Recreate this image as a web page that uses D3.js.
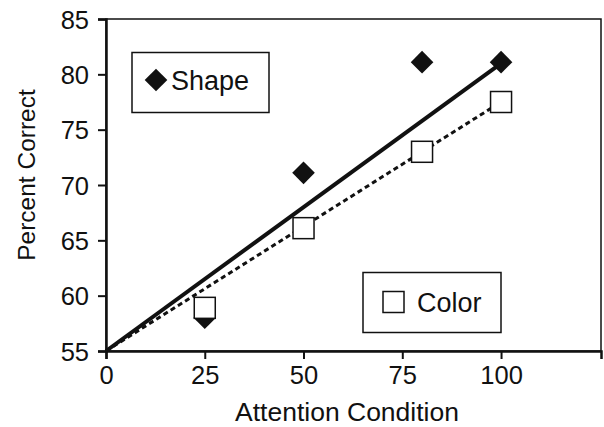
<!DOCTYPE html>
<html>
<head>
<meta charset="utf-8">
<script src="https://cdn.jsdelivr.net/npm/d3@7"></script>
<style>
  body { margin: 0; background: #fff; }
  svg { display: block; font-family: "Liberation Sans", Arial, sans-serif; }
</style>
</head>
<body>
<script>
const width = 604;
const height = 427;

// attention condition (x) and percent correct (y)
const shapeX = [25, 50, 80, 100];
const shapeY = [58, 71.1, 81.1, 81.1];
const colorX = [25, 50, 80, 100];
const colorY = [58.9, 66.1, 73, 77.5];
// fitted lines, [x, y] end points
const shapeFit = [[0, 55], [100, 81]];
const colorFit = [[0, 55], [100, 77.5]];
const xTicks = [0, 25, 50, 75, 100];
const yTicks = [55, 60, 65, 70, 75, 80, 85];

const margin = {top: 19, right: 3, bottom: 76, left: 106};

const x = d3.scaleLinear()
    .domain([0, 125.3])
    .range([margin.left, width - margin.right]);
const y = d3.scaleLinear()
    .domain([55, 85])
    .range([height - margin.bottom, margin.top]);

const svg = d3.select("body").append("svg")
    .attr("width", width)
    .attr("height", height);

// frame
svg.append("rect")
    .attr("x", x(0)).attr("y", y(85))
    .attr("width", x(125.3) - x(0)).attr("height", y(55) - y(85))
    .attr("fill", "none")
    .attr("stroke", "#111")
    .attr("stroke-width", 1.5);

const xAxis = svg.append("g")
    .attr("transform", `translate(0,${y(55)})`)
    .call(d3.axisBottom(x).tickValues(xTicks).tickSize(8).tickPadding(7));
const yAxis = svg.append("g")
    .attr("transform", `translate(${x(0)},0)`)
    .call(d3.axisLeft(y).tickValues(yTicks).tickSize(8).tickPadding(9));

[xAxis, yAxis].forEach(g => {
  g.select(".domain").attr("stroke", "#111").attr("stroke-width", 2.5);
  g.selectAll(".tick line").attr("stroke", "#111").attr("stroke-width", 2);
  g.selectAll(".tick text")
      .attr("font-family", "'Liberation Sans', Arial, sans-serif")
      .attr("font-size", 25.5)
      .attr("fill", "#111");
});
yAxis.selectAll(".tick text").attr("dy", "0.36em");

// axis titles
svg.append("text")
    .attr("x", 347).attr("y", 421)
    .attr("text-anchor", "middle")
    .attr("font-size", 26.5)
    .attr("fill", "#111")
    .text("Attention Condition");
svg.append("text")
    .attr("transform", "translate(35,175) rotate(-90)")
    .attr("text-anchor", "middle")
    .attr("font-size", 24.5)
    .attr("fill", "#111")
    .text("Percent Correct");

const line = d3.line().x(d => x(d[0])).y(d => y(d[1]));

svg.append("path")
    .attr("d", line(colorFit))
    .attr("fill", "none")
    .attr("stroke", "#111")
    .attr("stroke-width", 3)
    .attr("stroke-dasharray", "5,3.5");
svg.append("path")
    .attr("d", line(shapeFit))
    .attr("fill", "none")
    .attr("stroke", "#111")
    .attr("stroke-width", 4);

const diamond = d3.symbol().type(d3.symbolSquare).size(16 * 16);

svg.append("g")
  .selectAll("path")
  .data(shapeX.map((d, i) => [d, shapeY[i]]))
  .join("path")
    .attr("transform", d => `translate(${x(d[0])},${y(d[1])}) rotate(45)`)
    .attr("d", diamond)
    .attr("fill", "#111");

svg.append("g")
  .selectAll("rect")
  .data(colorX.map((d, i) => [d, colorY[i]]))
  .join("rect")
    .attr("x", d => x(d[0]) - 10.5)
    .attr("y", d => y(d[1]) - 10.5)
    .attr("width", 21).attr("height", 21)
    .attr("fill", "#fff")
    .attr("stroke", "#111")
    .attr("stroke-width", 1.5);

// legends
const legShape = svg.append("g");
legShape.append("rect")
    .attr("x", 132).attr("y", 52.5).attr("width", 137).attr("height", 60)
    .attr("fill", "#fff").attr("stroke", "#111").attr("stroke-width", 1.5);
legShape.append("path")
    .attr("transform", "translate(156,80) rotate(45)")
    .attr("d", diamond)
    .attr("fill", "#111");
legShape.append("text")
    .attr("x", 171).attr("y", 90)
    .attr("font-size", 27).attr("fill", "#111")
    .text("Shape");

const legColor = svg.append("g");
legColor.append("rect")
    .attr("x", 363).attr("y", 272.5).attr("width", 138).attr("height", 60)
    .attr("fill", "#fff").attr("stroke", "#111").attr("stroke-width", 1.5);
legColor.append("rect")
    .attr("x", 383).attr("y", 291.5).attr("width", 21).attr("height", 21)
    .attr("fill", "#fff").attr("stroke", "#111").attr("stroke-width", 1.5);
legColor.append("text")
    .attr("x", 417).attr("y", 312)
    .attr("font-size", 27).attr("fill", "#111")
    .text("Color");
</script>
</body>
</html>
